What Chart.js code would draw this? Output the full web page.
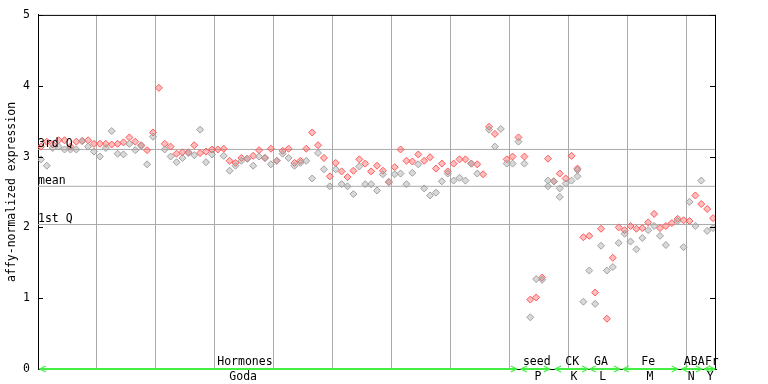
<!DOCTYPE html>
<html><head><meta charset="utf-8">
<script src="https://cdn.jsdelivr.net/npm/chart.js@4/dist/chart.umd.min.js"></script>
<style>html,body{margin:0;padding:0;background:#fff}#wrap{width:768px;height:384px}</style>
</head><body><div id="wrap"><canvas id="c" width="768" height="384"></canvas></div>
<script>
// replicate A (red), replicate B (gray), extra replicate C (gray), one value per sample position
const repA = [3.14,3.21,3.17,3.23,3.23,3.14,3.21,3.22,3.23,3.18, 3.18,3.18,3.17,3.18,3.20,3.27,3.21,3.16,3.09,3.34,
  3.97,3.18,3.14,3.04,3.06,3.06,3.16,3.05,3.07,3.10, 3.10,3.11,2.94,2.91,2.98,2.97,3.01,3.09,2.98,3.11,
  2.94,3.08,3.11,2.91,2.94,3.11,3.34,3.16,2.98,2.72, 2.91,2.79,2.71,2.80,2.96,2.90,2.79,2.87,2.80,2.64,
  2.85,3.10,2.94,2.93,3.03,2.94,2.99,2.83,2.90,2.79, 2.90,2.96,2.96,2.90,2.89,2.75,3.42,3.32,null,2.96,
  3.00,3.27,3.00,0.98,1.01,1.29,2.97,2.65,2.76,2.69, 3.01,2.83,1.86,1.88,1.08,1.98,0.71,1.57,2.00,1.96,
  2.02,1.98,1.99,2.07,2.19,1.99,2.02,2.06,2.12,2.10, 2.09,2.45,2.33,2.26,2.13];
const repB = [2.96,2.87,3.12,3.14,3.10,3.10,3.10,3.22,3.14,3.07, 3.00,3.12,3.36,3.04,3.03,3.18,3.09,3.15,2.89,3.28,
  null,3.10,3.00,2.92,2.98,3.05,3.02,3.38,2.92,3.03, null,3.01,2.80,2.87,2.94,2.97,2.87,3.00,2.98,2.89,
  2.94,3.04,2.98,2.87,2.91,2.94,2.69,3.05,2.82,2.58, 2.82,2.61,2.58,2.47,2.86,2.61,2.61,2.52,2.75,2.64,
  2.75,2.76,2.61,2.77,2.89,2.55,2.45,2.49,2.65,2.76, 2.66,2.70,2.66,2.90,2.76,null,3.38,3.14,3.39,2.90,
  2.90,3.21,2.90,0.73,1.27,1.26,2.66,2.65,2.55,2.62, 2.66,2.72,0.95,1.39,0.92,1.74,1.39,1.44,1.78,1.91,
  1.80,1.69,1.85,1.96,2.02,1.88,1.75,null,2.09,1.72, 2.36,2.02,2.66,1.95,1.99];
const repC = {86:2.58, 88:2.43, 91:2.81};
const quartileValues = [3.10, 2.58, 2.04];
const quartileLabels = ['3rd Q', 'mean', '1st Q'];
const groupTop    = ['Hormones','seed','CK','GA','Fe','ABA','Fr'];
const groupBottom = ['Goda','P','K','L','M','N','Y'];
const groupStart  = [0.3, 81.9, 87.7, 93.6, 99.2, 109.2, 113.0];
const groupEnd    = [81.2, 86.8, 93.3, 98.7, 108.5, 112.6, 114.8];
const groupTopX   = [35.1, 84.6, 90.6, 95.5, 103.5, 111.3, 114.3];
const groupBotX   = [34.8, 84.8, 90.9, 95.8, 103.8, 110.8, 114.0];
const yTicks = [0,1,2,3,4,5];
const X_MAX = 115;

const FONT = '"DejaVu Sans Mono", monospace';
const RED = '#ff5a5a', GRAY = '#a0a0a0', GRID = '#aaaaaa', GREEN = '#44ee44';

function toPts(arr){ const out=[]; arr.forEach((v,i)=>{ if(v!==null && v!==undefined) out.push({x:i+0.5,y:v}); }); return out; }
const ptsC = Object.keys(repC).map(k=>({x:+k+0.5,y:repC[k]}));

const datasets = [];
quartileValues.forEach(q=>{
  datasets.push({type:'line', data:[{x:0,y:q},{x:X_MAX,y:q}], borderColor:GRID, borderWidth:1, pointRadius:0, order:10});
});
const ptStyle = (c)=>({pointStyle:'rectRot', pointRadius:3.5, pointBorderWidth:1, borderColor:c, pointBorderColor:c,
  backgroundColor:c+'66', pointBackgroundColor:c+'66', showLine:false, order:1});
datasets.push(Object.assign({data:toPts(repB)}, ptStyle(GRAY)));
datasets.push(Object.assign({data:ptsC}, ptStyle(GRAY)));
datasets.push(Object.assign({data:toPts(repA)}, ptStyle(RED)));

const deco = {
  id:'deco',
  afterDraw(chart){
    const ctx = chart.ctx, a = chart.chartArea, xs = chart.scales.x, ys = chart.scales.y;
    ctx.save();
    ctx.strokeStyle = '#000'; ctx.lineWidth = 1;
    ctx.beginPath();
    ctx.moveTo(a.left, a.top+0.5); ctx.lineTo(a.right, a.top+0.5);
    ctx.moveTo(a.right-0.5, a.top); ctx.lineTo(a.right-0.5, a.bottom);
    yTicks.forEach(t=>{
      const y = Math.round(ys.getPixelForValue(t))+0.5;
      ctx.moveTo(a.left, y); ctx.lineTo(a.left+5, y);
      ctx.moveTo(a.right-6, y); ctx.lineTo(a.right, y);
    });
    ctx.stroke();
    // quartile labels
    ctx.fillStyle = '#000'; ctx.font = '11.5px ' + FONT; ctx.textAlign='left'; ctx.textBaseline='bottom';
    quartileValues.forEach((q,i)=>{ ctx.fillText(quartileLabels[i], a.left, ys.getPixelForValue(q)); });
    // group arrows
    const gy = a.bottom;
    ctx.strokeStyle = GREEN; ctx.lineWidth = 2;
    groupStart.forEach((s,i)=>{
      const x1 = xs.getPixelForValue(s), x2 = xs.getPixelForValue(groupEnd[i]);
      ctx.beginPath();
      ctx.moveTo(x1, gy); ctx.lineTo(x2, gy);
      ctx.stroke();
      ctx.lineWidth = 1.2;
      ctx.beginPath();
      ctx.moveTo(x1+6, gy-3); ctx.lineTo(x1, gy); ctx.lineTo(x1+6, gy+3);
      ctx.moveTo(x2-6, gy-3); ctx.lineTo(x2, gy); ctx.lineTo(x2-6, gy+3);
      ctx.stroke();
      ctx.lineWidth = 2;
    });
    ctx.fillStyle = '#000'; ctx.textAlign='center'; ctx.textBaseline='middle';
    groupTop.forEach((t,i)=>ctx.fillText(t, xs.getPixelForValue(groupTopX[i]), a.bottom-7));
    groupBottom.forEach((t,i)=>ctx.fillText(t, xs.getPixelForValue(groupBotX[i]), a.bottom+8));
    ctx.restore();
  }
};

new Chart(document.getElementById('c'), {
  type:'scatter',
  data:{datasets},
  options:{
    responsive:false, animation:false,
    layout:{padding:{top:13, right:52, left:0, bottom:0}},
    plugins:{legend:{display:false}, tooltip:{enabled:false}},
    scales:{
      x:{type:'linear', min:0, max:X_MAX,
        afterBuildTicks:(s)=>{ const t=[]; for(let v=10; v<X_MAX; v+=10) t.push({value:v}); s.ticks=t; },
        afterFit:(s)=>{ s.height = 15; },
        ticks:{display:false},
        grid:{color:GRID, lineWidth:1, drawTicks:false},
        border:{display:true, color:'#000', width:1}
      },
      y:{min:0, max:5,
        afterBuildTicks:(s)=>{ s.ticks = yTicks.map(v=>({value:v})); },
        afterFit:(s)=>{ s.width = 38; },
        ticks:{color:'#000', font:{family:FONT, size:11.5}, padding:8},
        grid:{display:false, drawTicks:false},
        border:{display:true, color:'#000', width:1},
        title:{display:true, text:'affy-normalized expression', color:'#000', font:{family:FONT, size:11.5}, padding:{top:5,bottom:0}}
      }
    }
  },
  plugins:[deco]
});
</script></body></html>
